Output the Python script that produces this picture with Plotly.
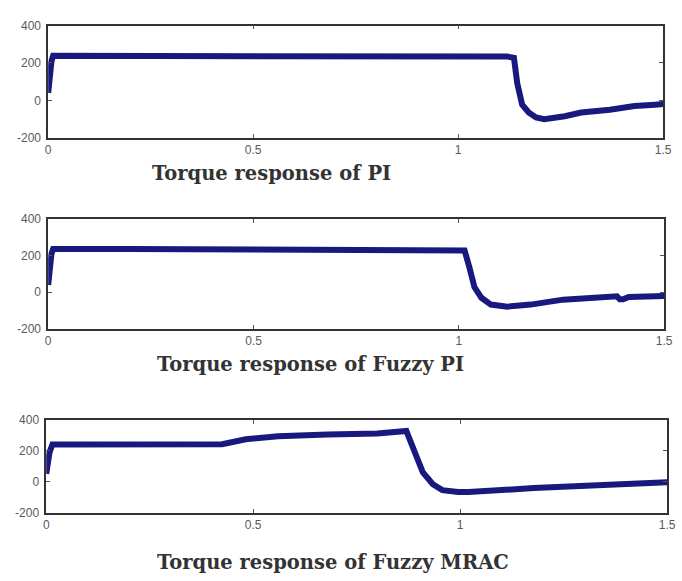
import plotly.graph_objects as go

W, H = 682, 581

# ---- data ----
t_pi = [0, 0.004, 0.008, 0.012, 0.05, 0.2, 0.5, 0.8, 1.0, 1.12, 1.136, 1.144, 1.156, 1.172, 1.19, 1.21, 1.26, 1.30, 1.37, 1.43, 1.48, 1.5]
v_pi = [40, 150, 210, 238, 238, 237, 238, 236, 236, 234, 228, 92, -23, -65, -91, -101, -85, -65, -50, -30, -23, -20]

t_fpi = [0, 0.004, 0.008, 0.012, 0.05, 0.2, 0.5, 0.8, 1.0, 1.014, 1.026, 1.038, 1.055, 1.078, 1.118, 1.175, 1.254, 1.357, 1.385, 1.392, 1.40, 1.414, 1.486, 1.5]
v_fpi = [40, 150, 210, 235, 236, 235, 233, 232, 232, 228, 134, 28, -30, -67, -78, -67, -40, -20, -22, -38, -38, -25, -22, -20]

t_mrac = [0, 0.004, 0.008, 0.015, 0.05, 0.2, 0.323, 0.425, 0.482, 0.56, 0.68, 0.80, 0.87, 0.878, 0.893, 0.91, 0.934, 0.957, 0.995, 1.02, 1.178, 1.337, 1.494, 1.5]
v_mrac = [50, 130, 190, 240, 240, 238, 237, 242, 274, 293, 305, 312, 328, 274, 166, 59, -17, -55, -67, -67, -42, -23, -5, -4]

titles = ["Torque response of PI", "Torque response of Fuzzy PI", "Torque response of Fuzzy MRAC"]
x_ticks = [0, 0.5, 1, 1.5]
x_tick_labels = ["0", "0.5", "1", "1.5"]
y_ticks = [-200, 0, 200, 400]
y_tick_labels = ["-200", "0", "200", "400"]

series = [(t_pi, v_pi), (t_fpi, v_fpi), (t_mrac, v_mrac)]

# panel boxes in pixels: (left, right, top, bottom)
boxes = [(46, 672, 19, 134), (46, 673, 217, 330), (44, 676, 423, 518)]
title_pos = [(150, 171), (155, 366), (155, 569)]

fig = go.Figure()
line_color = "#18187f"

for i, ((t, v), (l, r, tp, b)) in enumerate(zip(series, boxes)):
    n = "" if i == 0 else str(i + 1)
    fig.add_trace(go.Scatter(x=t, y=v, mode="lines",
                             line=dict(color=line_color, width=6),
                             xaxis="x" + n, yaxis="y" + n, showlegend=False))
    axis_common = dict(showgrid=False, zeroline=False, showline=True, linecolor="#333333",
                       linewidth=1.5, mirror="ticks", ticks="inside", ticklen=4,
                       tickcolor="#555555", tickwidth=1.2,
                       tickfont=dict(family="Liberation Sans", size=12, color="#5a5a5a"))
    fig.layout["xaxis" + n] = dict(axis_common, domain=[l / W, r / W], range=[0, 1.5],
                                   tickvals=x_ticks, ticktext=x_tick_labels,
                                   anchor="y" + n, ticklabelstandoff=0)
    fig.layout["yaxis" + n] = dict(axis_common, domain=[1 - b / H, 1 - tp / H], range=[-200, 400],
                                   tickvals=y_ticks, ticktext=y_tick_labels,
                                   anchor="x" + n, ticklabelstandoff=3)
    tx, ty = title_pos[i]
    fig.add_annotation(x=tx / W, y=1 - ty / H, xref="paper", yref="paper",
                       xanchor="left", yanchor="middle", showarrow=False,
                       text="<b>" + titles[i] + "</b>",
                       font=dict(family="DejaVu Serif", size=19.5, color="#333333"))

fig.update_layout(width=W, height=H, margin=dict(l=0, r=0, t=0, b=0),
                  paper_bgcolor="white", plot_bgcolor="white")

post = (
    "document.documentElement.style.margin='0';"
    "document.documentElement.style.overflow='hidden';"
    "document.body.style.margin='0';"
    "document.body.style.overflow='hidden';"
    "document.querySelectorAll('.svg-container').forEach(function(e){e.style.verticalAlign='top';});"
)
fig.write_html("out.html", config={"displayModeBar": False}, post_script=post)
